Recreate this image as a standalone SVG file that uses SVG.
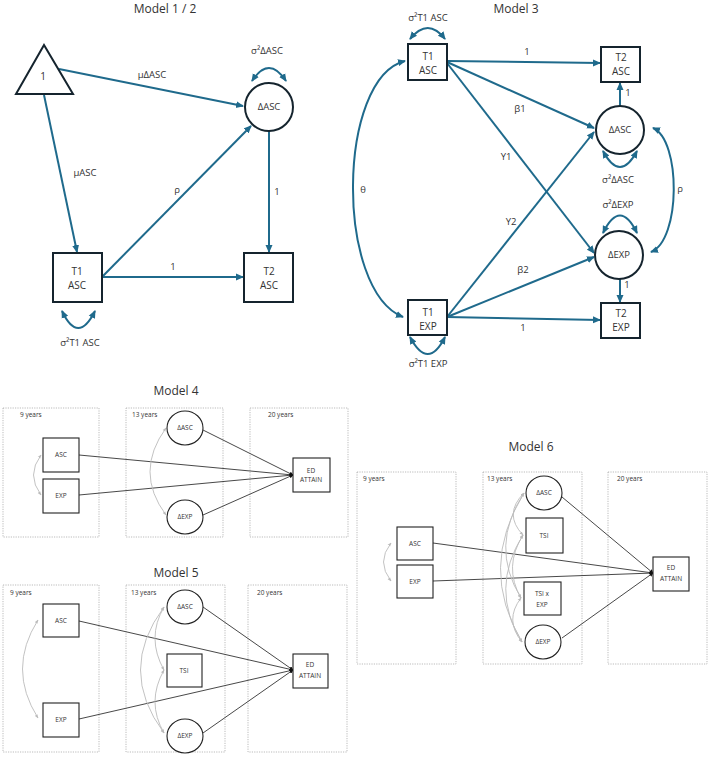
<svg xmlns="http://www.w3.org/2000/svg" width="709" height="763" viewBox="0 0 709 763">
<defs>
<style>
text{font-family:"Open Sans","Liberation Sans",sans-serif;fill:#333;}
.title{font-size:12px;text-anchor:middle;}
.lbl{font-size:9.5px;text-anchor:middle;}
.nt{font-size:10px;text-anchor:middle;}
.sn{font-size:6.5px;text-anchor:middle;}
.yr{font-size:6.5px;}
.bn{fill:#fff;stroke:#15242e;stroke-width:2;}
.sm{fill:#fff;stroke:#222;stroke-width:1.1;}
.blue{fill:none;stroke:#1f6a8c;stroke-width:2;}
.dk{fill:none;stroke:#333;stroke-width:0.9;}
.gr{fill:none;stroke:#bbb;stroke-width:0.9;}
.pan{fill:none;stroke:#aaa;stroke-width:0.8;stroke-dasharray:1.2 1.2;}
</style>
<marker id="ab" markerUnits="userSpaceOnUse" markerWidth="8" markerHeight="8" refX="7" refY="4" orient="auto-start-reverse"><path d="M0,0.5 L8,4 L0,7.5 z" fill="#1f6a8c"/></marker>
<marker id="ak" markerUnits="userSpaceOnUse" markerWidth="4" markerHeight="4" refX="3.5" refY="2" orient="auto"><path d="M0,0 L4,2 L0,4 z" fill="#111"/></marker>
<marker id="ag" markerUnits="userSpaceOnUse" markerWidth="4" markerHeight="4" refX="3.5" refY="2" orient="auto-start-reverse"><path d="M0,0.5 L4,2 L0,3.5 z" fill="#bbb"/></marker>
</defs>
<rect width="709" height="763" fill="#fff"/>

<!-- Titles -->
<text class="title" x="165" y="13">Model 1 / 2</text>
<text class="title" x="516" y="13">Model 3</text>
<text class="title" x="176" y="395">Model 4</text>
<text class="title" x="176" y="577">Model 5</text>
<text class="title" x="531" y="451">Model 6</text>

<!-- Panels (lower models) -->
<g id="panels">
<rect class="pan" x="3" y="408" width="96" height="129"/>
<rect class="pan" x="126" y="408" width="97" height="129"/>
<rect class="pan" x="250" y="408" width="98" height="129"/>
<text class="yr" x="20" y="417">9 years</text>
<text class="yr" x="132" y="417">13 years</text>
<text class="yr" x="268" y="417">20 years</text>
<rect class="pan" x="3" y="585" width="96" height="167"/>
<rect class="pan" x="126" y="585" width="99" height="167"/>
<rect class="pan" x="248" y="585" width="99" height="167"/>
<text class="yr" x="10" y="595">9 years</text>
<text class="yr" x="131" y="595">13 years</text>
<text class="yr" x="257" y="595">20 years</text>
<rect class="pan" x="357" y="472" width="99" height="192"/>
<rect class="pan" x="483" y="472" width="99" height="192"/>
<rect class="pan" x="608" y="472" width="99" height="192"/>
<text class="yr" x="363" y="481">9 years</text>
<text class="yr" x="487" y="481">13 years</text>
<text class="yr" x="617" y="481">20 years</text>
</g>

<!-- Connectors -->
<g id="connectors">
<!-- Model 1/2 -->
<line class="blue" x1="59" y1="69" x2="243" y2="106" marker-end="url(#ab)"/>
<line class="blue" x1="44" y1="95" x2="77" y2="252" marker-end="url(#ab)"/>
<line class="blue" x1="102" y1="277" x2="251" y2="126" marker-end="url(#ab)"/>
<line class="blue" x1="102" y1="277" x2="243" y2="277" marker-end="url(#ab)"/>
<line class="blue" x1="269" y1="131" x2="269" y2="252" marker-end="url(#ab)"/>
<path class="blue" d="M252,81 Q269,55 286,81" marker-start="url(#ab)" marker-end="url(#ab)"/>
<path class="blue" d="M62,311 Q78,345 95,311" marker-start="url(#ab)" marker-end="url(#ab)"/>
<!-- Model 3 -->
<line class="blue" x1="447" y1="61" x2="600" y2="63" marker-end="url(#ab)"/>
<line class="blue" x1="447" y1="62" x2="594" y2="128" marker-end="url(#ab)"/>
<line class="blue" x1="447" y1="63" x2="594" y2="253" marker-end="url(#ab)"/>
<line class="blue" x1="447" y1="317" x2="594" y2="132" marker-end="url(#ab)"/>
<line class="blue" x1="447" y1="317" x2="594" y2="257" marker-end="url(#ab)"/>
<line class="blue" x1="447" y1="317" x2="600" y2="320" marker-end="url(#ab)"/>
<line class="blue" x1="620" y1="106" x2="620" y2="83" marker-end="url(#ab)"/>
<line class="blue" x1="620" y1="279" x2="620" y2="302" marker-end="url(#ab)"/>
<path class="blue" d="M405,61 C337,78 335,290 403,317" marker-start="url(#ab)" marker-end="url(#ab)"/>
<path class="blue" d="M653,128 C681,140 681,240 651,252" marker-start="url(#ab)" marker-end="url(#ab)"/>
<path class="blue" d="M410,39 Q428,17 445,39" marker-start="url(#ab)" marker-end="url(#ab)"/>
<path class="blue" d="M603,151 Q620,183 637,151" marker-start="url(#ab)" marker-end="url(#ab)"/>
<path class="blue" d="M603,233 Q620,198 637,233" marker-start="url(#ab)" marker-end="url(#ab)"/>
<path class="blue" d="M410,337 Q428,371 445,337" marker-start="url(#ab)" marker-end="url(#ab)"/>
<!-- Model 4 -->
<line class="dk" x1="79" y1="455" x2="293" y2="475" marker-end="url(#ak)"/>
<line class="dk" x1="79" y1="495" x2="293" y2="475" marker-end="url(#ak)"/>
<line class="dk" x1="203" y1="430" x2="293" y2="475" marker-end="url(#ak)"/>
<line class="dk" x1="203" y1="515" x2="293" y2="475" marker-end="url(#ak)"/>
<path class="gr" d="M41,455 Q26,475 41,495" marker-start="url(#ag)" marker-end="url(#ag)"/>
<path class="gr" d="M166,428 Q134,472 166,515" marker-start="url(#ag)" marker-end="url(#ag)"/>
<!-- Model 5 -->
<line class="dk" x1="79" y1="621" x2="293" y2="670" marker-end="url(#ak)"/>
<line class="dk" x1="79" y1="719" x2="293" y2="670" marker-end="url(#ak)"/>
<line class="dk" x1="203" y1="607" x2="293" y2="670" marker-end="url(#ak)"/>
<line class="dk" x1="203" y1="733" x2="293" y2="670" marker-end="url(#ak)"/>
<path class="gr" d="M38,620 Q7,669 38,718" marker-start="url(#ag)" marker-end="url(#ag)"/>
<path class="gr" d="M164,607 Q117,670 164,733" marker-start="url(#ag)" marker-end="url(#ag)"/>
<path class="gr" d="M164,607 Q146,638 164,670" marker-start="url(#ag)" marker-end="url(#ag)"/>
<path class="gr" d="M164,670 Q146,702 164,733" marker-start="url(#ag)" marker-end="url(#ag)"/>
<!-- Model 6 -->
<line class="dk" x1="433" y1="543" x2="653" y2="573" marker-end="url(#ak)"/>
<line class="dk" x1="433" y1="581" x2="653" y2="573" marker-end="url(#ak)"/>
<line class="dk" x1="562" y1="497" x2="653" y2="573" marker-end="url(#ak)"/>
<line class="dk" x1="562" y1="638" x2="653" y2="573" marker-end="url(#ak)"/>
<path class="gr" d="M391,543 Q376,562 391,581" marker-start="url(#ag)" marker-end="url(#ag)"/>
<path class="gr" d="M524,493 Q478,568 522,642" marker-start="url(#ag)" marker-end="url(#ag)"/>
<path class="gr" d="M524,493 Q489,546 521,598" marker-start="url(#ag)" marker-end="url(#ag)"/>
<path class="gr" d="M524,493 Q503,514 523,535" marker-start="url(#ag)" marker-end="url(#ag)"/>
<path class="gr" d="M523,535 Q489,589 522,642" marker-start="url(#ag)" marker-end="url(#ag)"/>
<path class="gr" d="M523,535 Q503,567 521,598" marker-start="url(#ag)" marker-end="url(#ag)"/>
<path class="gr" d="M521,598 Q504,620 522,642" marker-start="url(#ag)" marker-end="url(#ag)"/>
</g>

<!-- Connector labels -->
<g id="labels">
<text class="lbl" x="152" y="78">μΔASC</text>
<text class="lbl" x="85" y="176">μASC</text>
<text class="lbl" x="177" y="193">ρ</text>
<text class="lbl" x="173" y="270">1</text>
<text class="lbl" x="277" y="195">1</text>
<text class="lbl" x="267" y="54">σ²ΔASC</text>
<text class="lbl" x="80" y="346">σ²T1 ASC</text>
<text class="lbl" x="428" y="21">σ²T1 ASC</text>
<text class="lbl" x="527" y="55">1</text>
<text class="lbl" x="520" y="112">β1</text>
<text class="lbl" x="506" y="160">Y1</text>
<text class="lbl" x="511" y="225">Y2</text>
<text class="lbl" x="523" y="273">β2</text>
<text class="lbl" x="523" y="331">1</text>
<text class="lbl" x="628" y="96">1</text>
<text class="lbl" x="627" y="288">1</text>
<text class="lbl" x="618" y="183">σ²ΔASC</text>
<text class="lbl" x="618" y="208">σ²ΔEXP</text>
<text class="lbl" x="428" y="367">σ²T1 EXP</text>
<text class="lbl" x="680" y="192">ρ</text>
<text class="lbl" x="363" y="193">θ</text>
</g>

<!-- Model 1/2 nodes -->
<g id="m12_const"><polygon class="bn" points="44,45 16,94 73,94"/><text class="nt" x="43" y="80">1</text></g>
<g id="m12_dASC"><circle class="bn" cx="269" cy="107" r="24"/><text class="lbl" x="269" y="110">ΔASC</text></g>
<g id="m12_T1ASC"><rect class="bn" x="53" y="253" width="49" height="49"/><text class="nt" x="77" y="275">T1</text><text class="nt" x="77" y="289">ASC</text></g>
<g id="m12_T2ASC"><rect class="bn" x="244" y="253" width="49" height="49"/><text class="nt" x="269" y="275">T2</text><text class="nt" x="269" y="289">ASC</text></g>

<!-- Model 3 nodes -->
<g id="m3_T1ASC"><rect class="bn" x="408" y="44" width="39" height="36"/><text class="nt" x="428" y="60">T1</text><text class="nt" x="428" y="74">ASC</text></g>
<g id="m3_T2ASC"><rect class="bn" x="601" y="47" width="39" height="35"/><text class="nt" x="621" y="61">T2</text><text class="nt" x="621" y="75">ASC</text></g>
<g id="m3_dASC"><circle class="bn" cx="620" cy="130" r="24"/><text class="lbl" x="620" y="133">ΔASC</text></g>
<g id="m3_dEXP"><circle class="bn" cx="619" cy="255" r="24"/><text class="lbl" x="619" y="258">ΔEXP</text></g>
<g id="m3_T1EXP"><rect class="bn" x="408" y="300" width="39" height="35"/><text class="nt" x="428" y="316">T1</text><text class="nt" x="428" y="330">EXP</text></g>
<g id="m3_T2EXP"><rect class="bn" x="601" y="303" width="39" height="35"/><text class="nt" x="621" y="317">T2</text><text class="nt" x="621" y="331">EXP</text></g>

<!-- Model 4 nodes -->
<g id="m4_ASC"><rect class="sm" x="43" y="438" width="36" height="34"/><text class="sn" x="61" y="457">ASC</text></g>
<g id="m4_EXP"><rect class="sm" x="43" y="479" width="36" height="34"/><text class="sn" x="61" y="498">EXP</text></g>
<g id="m4_dASC"><ellipse class="sm" cx="185" cy="428" rx="18" ry="17"/><text class="sn" x="185" y="430">ΔASC</text></g>
<g id="m4_dEXP"><ellipse class="sm" cx="185" cy="517" rx="18" ry="17"/><text class="sn" x="185" y="519">ΔEXP</text></g>
<g id="m4_ED"><rect class="sm" x="293" y="458" width="37" height="34"/><text class="sn" x="311" y="473">ED</text><text class="sn" x="311" y="482">ATTAIN</text></g>

<!-- Model 5 nodes -->
<g id="m5_ASC"><rect class="sm" x="43" y="604" width="36" height="33"/><text class="sn" x="61" y="623">ASC</text></g>
<g id="m5_EXP"><rect class="sm" x="43" y="703" width="36" height="34"/><text class="sn" x="61" y="722">EXP</text></g>
<g id="m5_dASC"><ellipse class="sm" cx="185" cy="607" rx="18" ry="17"/><text class="sn" x="185" y="609">ΔASC</text></g>
<g id="m5_TSI"><rect class="sm" x="167" y="654" width="35" height="33"/><text class="sn" x="184" y="673">TSI</text></g>
<g id="m5_dEXP"><ellipse class="sm" cx="185" cy="736" rx="18" ry="17"/><text class="sn" x="185" y="738">ΔEXP</text></g>
<g id="m5_ED"><rect class="sm" x="293" y="654" width="35" height="34"/><text class="sn" x="310" y="667">ED</text><text class="sn" x="310" y="678">ATTAIN</text></g>

<!-- Model 6 nodes -->
<g id="m6_ASC"><rect class="sm" x="397" y="527" width="36" height="33"/><text class="sn" x="415" y="546">ASC</text></g>
<g id="m6_EXP"><rect class="sm" x="397" y="565" width="36" height="33"/><text class="sn" x="415" y="584">EXP</text></g>
<g id="m6_dASC"><ellipse class="sm" cx="544" cy="493" rx="18" ry="17"/><text class="sn" x="544" y="495">ΔASC</text></g>
<g id="m6_TSI"><rect class="sm" x="526" y="518" width="37" height="35"/><text class="sn" x="544" y="538">TSI</text></g>
<g id="m6_TSIxEXP"><rect class="sm" x="524" y="582" width="37" height="33"/><text class="sn" x="542" y="596">TSI x</text><text class="sn" x="542" y="607">EXP</text></g>
<g id="m6_dEXP"><ellipse class="sm" cx="543" cy="642" rx="18" ry="17"/><text class="sn" x="543" y="644">ΔEXP</text></g>
<g id="m6_ED"><rect class="sm" x="653" y="557" width="36" height="34"/><text class="sn" x="671" y="570">ED</text><text class="sn" x="671" y="581">ATTAIN</text></g>
</svg>
